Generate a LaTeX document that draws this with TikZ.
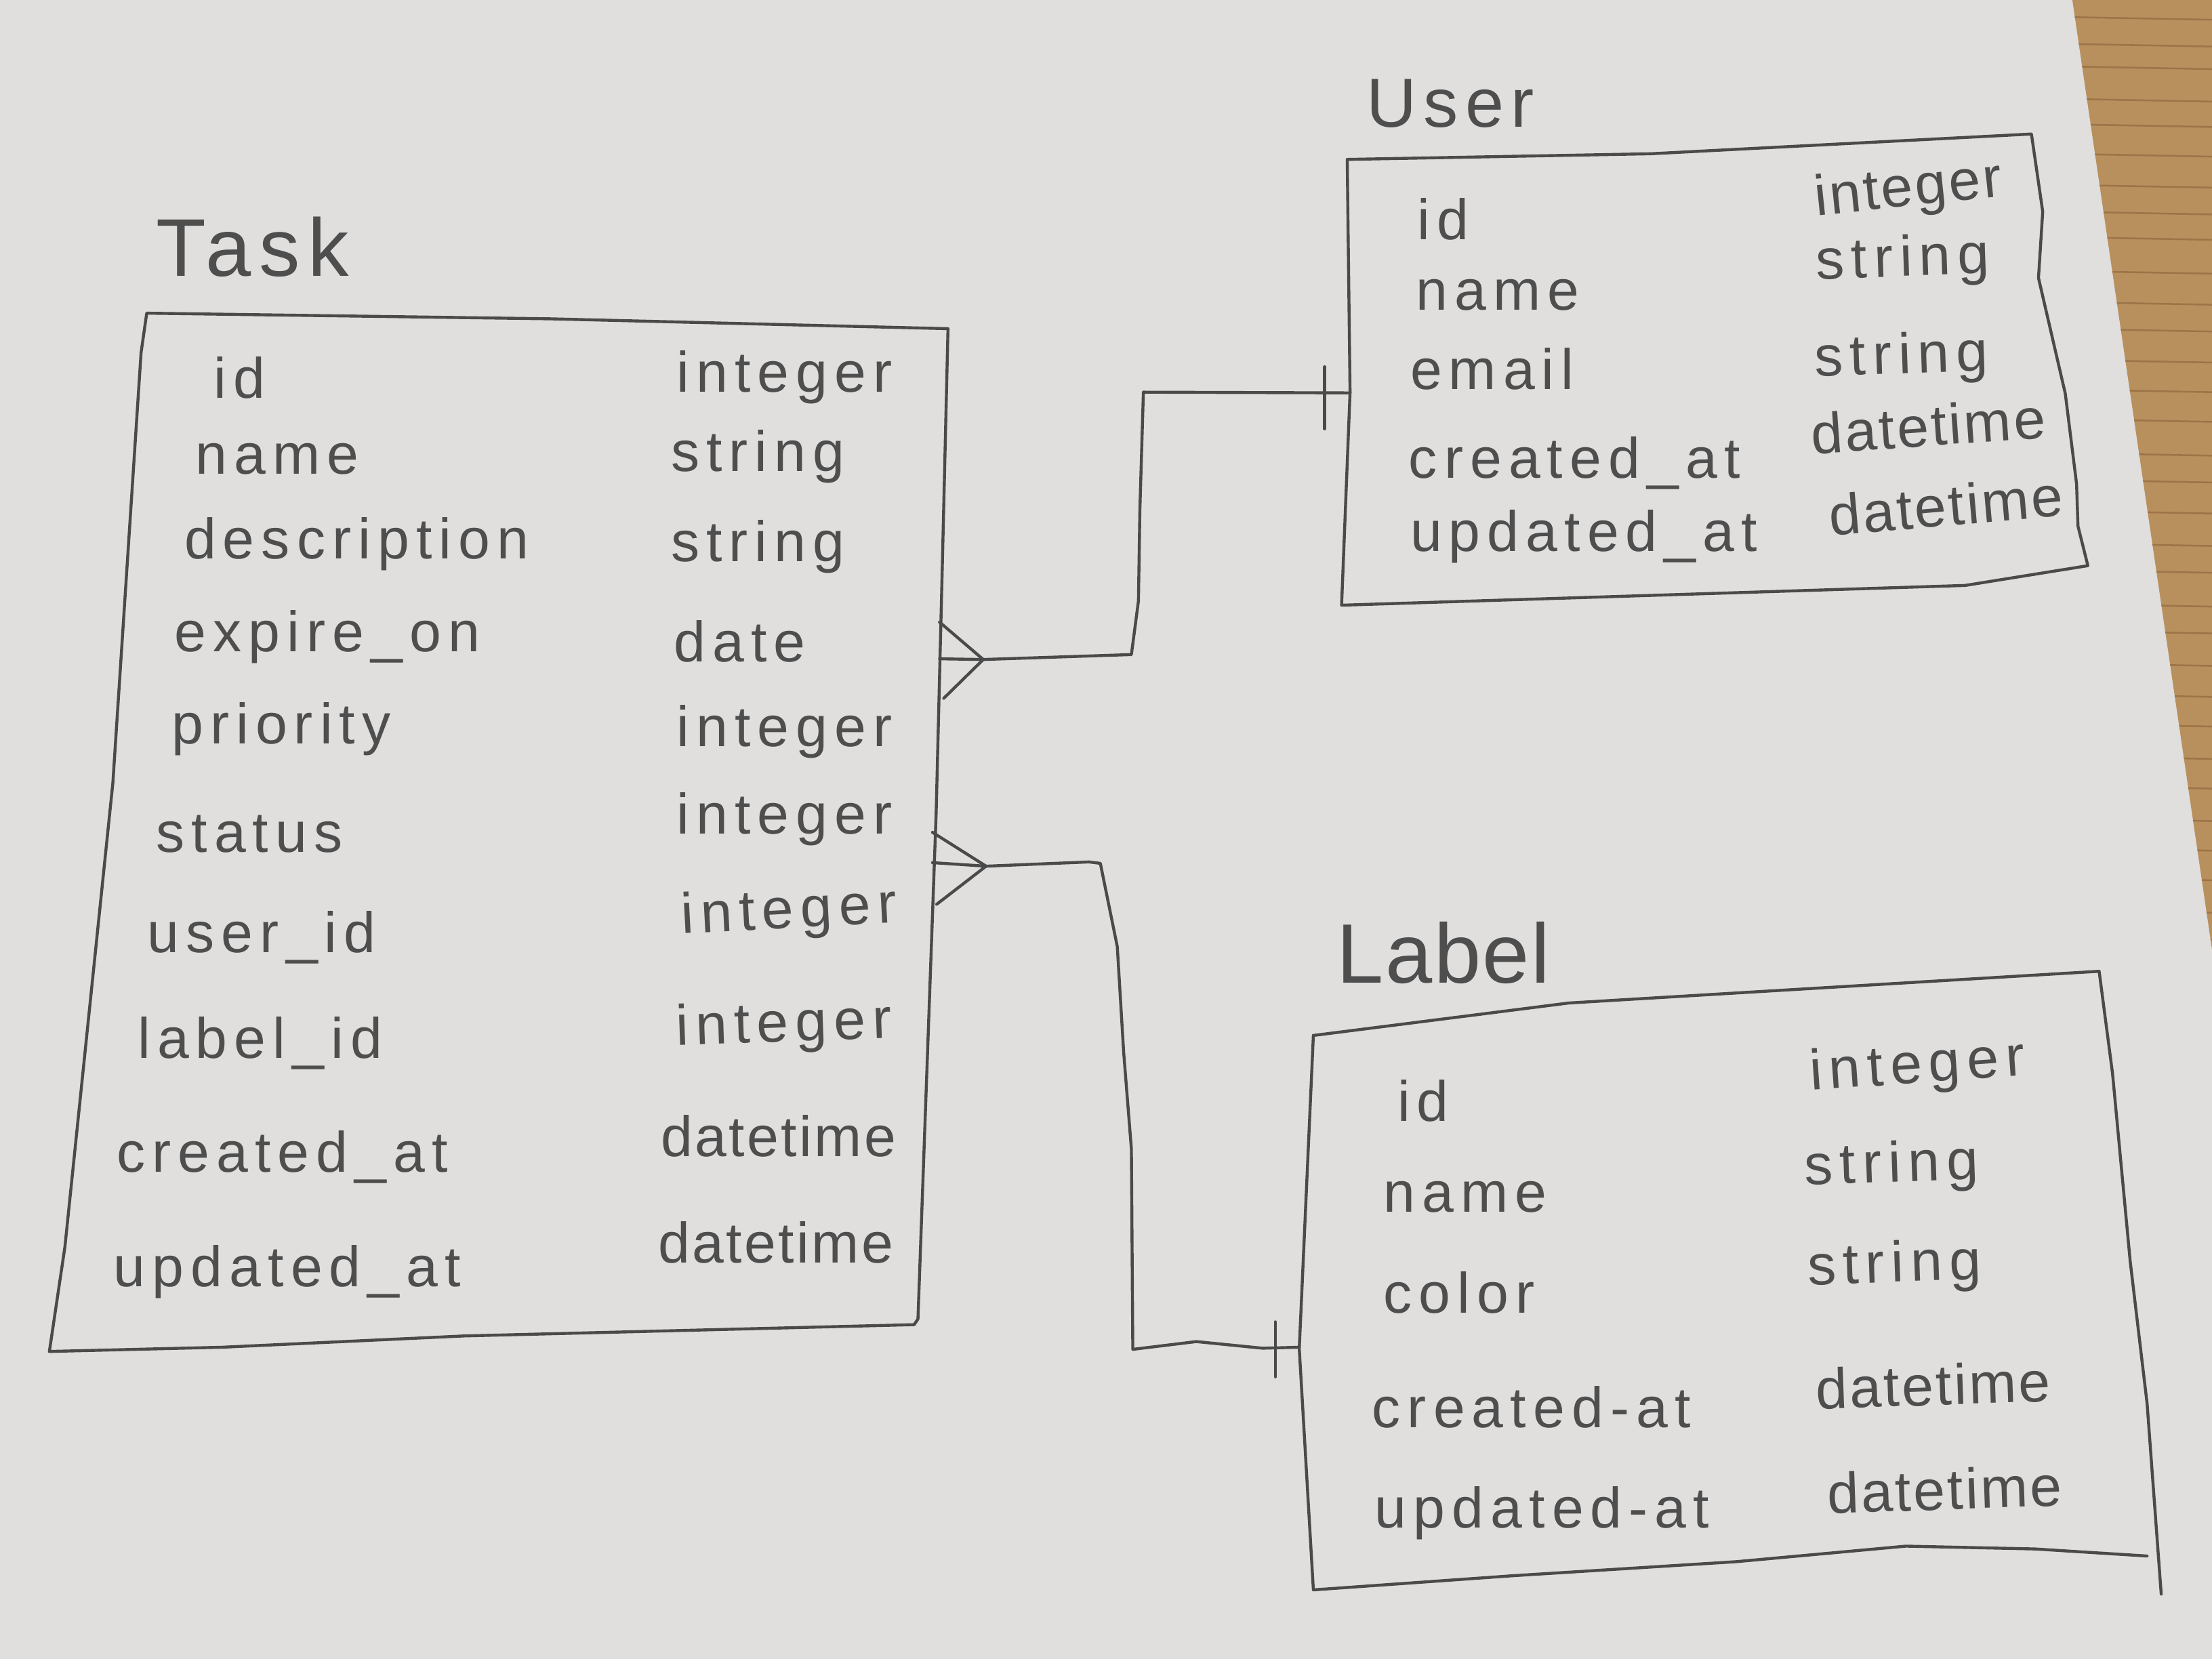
\documentclass[tikz,border=0pt]{standalone}
\usepackage{fontspec}
\newfontfamily\handfont{Liberation Sans}[LetterSpace=12]
\newfontfamily\narrowfont{Liberation Sans}[LetterSpace=4]
\newfontfamily\titlefont{Liberation Sans}[LetterSpace=10]
\newfontfamily\labelfont{Liberation Sans}[LetterSpace=2]
\definecolor{paper}{HTML}{E0DFDE}
\definecolor{desk}{HTML}{B8905E}
\definecolor{grain}{HTML}{9C7447}
\definecolor{pencil}{HTML}{4A4A4A}
\definecolor{pentext}{HTML}{4E4E4E}
\begin{document}
\begin{tikzpicture}[x=0.01cm,y=-0.01cm,
  pline/.style={draw=pencil,line width=0.6pt,line join=round,line cap=round},
  row/.style={anchor=base west,inner sep=0pt,text=pentext,font=\handfont\fontsize{11.5}{13}\selectfont},
  rown/.style={row,font=\narrowfont\fontsize{11.5}{13}\selectfont},
  ttl/.style={anchor=base west,inner sep=0pt,text=pentext}]
% background
\useasboundingbox (0,0) rectangle (1568,1176);
\fill[paper] (0,0) rectangle (1568,1176);
\fill[desk] (1469,0) -- (1568,0) -- (1568,673) -- cycle;
\begin{scope}
\clip (1469,0) -- (1568,0) -- (1568,673) -- cycle;
\foreach \yy in {12,31,47,70,88,109,131,150,168,192,214,233,255,276,297,321,340,362,385,404,428,447,470,492,513,536,557,580,601,622,645,664}
  \draw[grain,line width=0.35pt] (1460,\yy) -- (1568,\yy+2);
\end{scope}

% ---------- Task ----------
\node[ttl,font=\titlefont\fontsize{16.5}{18}\selectfont] (tTask) at (110,196) {Task};
\draw[pline] (104,222) -- (390,226) -- (672,233) -- (668,400) -- (663.6,576.5) -- (650.7,935) -- (648,939)
  -- (329,947) -- (157.5,955) -- (35,958) -- (46,884) -- (80,555) -- (100,250) -- cycle;
\node[row] (t1a) at (151,282) {id};
\node[row] (t1b) at (479,278) {integer};
\node[row] (t2a) at (138,336) {name};
\node[row] (t2b) at (475,334) {string};
\node[row] (t3a) at (130,396) {description};
\node[row] (t3b) at (475,398) {string};
\node[row] (t4a) at (123,462) {expire\_on};
\node[row] (t4b) at (477,469) {date};
\node[row] (t5a) at (121,527) {priority};
\node[row] (t5b) at (479,529) {integer};
\node[row] (t6a) at (110,604) {status};
\node[row] (t6b) at (479,591) {integer};
\node[row] (t7a) at (104,675) {user\_id};
\node[row,rotate=3] (t7b) at (483,662) {integer};
\node[row] (t8a) at (97,750) {label\_id};
\node[row,rotate=2] (t8b) at (479,741) {integer};
\node[row] (t9a) at (82,831) {created\_at};
\node[rown] (t9b) at (468,820) {datetime};
\node[row] (t10a) at (80,912) {updated\_at};
\node[rown] (t10b) at (466,895) {datetime};

% ---------- User ----------
\node[ttl,font=\titlefont\fontsize{14}{16}\selectfont] (tUser) at (968,90) {User};
\draw[pline] (955,113) -- (1170,109) -- (1440,95) -- (1448,150) -- (1445,197) -- (1464,279) -- (1472,343)
  -- (1473,373) -- (1480,401) -- (1393,415) -- (951,429) -- (957,278) -- cycle;
\node[row] (u1a) at (1004,170) {id};
\node[rown,rotate=6] (u1b) at (1287,153) {integer};
\node[row] (u2a) at (1003,220) {name};
\node[row,rotate=2] (u2b) at (1287,198) {string};
\node[row] (u3a) at (999,276) {email};
\node[row,rotate=2] (u3b) at (1286,267) {string};
\node[row] (u4a) at (998,339) {created\_at};
\node[rown,rotate=4] (u4b) at (1284,322) {datetime};
\node[row] (u5a) at (999,391) {updated\_at};
\node[rown,rotate=5] (u5b) at (1297,380) {datetime};

% ---------- Label ----------
\node[ttl,font=\labelfont\fontsize{17}{19}\selectfont] (tLabel) at (947,697) {Label};
\draw[pline] (931,734) -- (1112,711) -- (1488,688.5) -- (1497.5,761) -- (1510,894) -- (1522,995) -- (1532,1130);
\draw[pline] (1522,1103) -- (1442.5,1098) -- (1351,1096) -- (1231,1107) -- (1072,1117) -- (931,1127)
  -- (921,956) -- (931,734);
\node[row] (l1a) at (990,795) {id};
\node[row,rotate=4] (l1b) at (1283,773) {integer};
\node[row] (l2a) at (980,859) {name};
\node[row,rotate=2] (l2b) at (1279,840) {string};
\node[row] (l3a) at (980,931) {color};
\node[row,rotate=2] (l3b) at (1281,911) {string};
\node[row] (l4a) at (972,1012) {created-at};
\node[rown,rotate=2] (l4b) at (1287,999) {datetime};
\node[row] (l5a) at (974,1083) {updated-at};
\node[rown,rotate=2] (l5b) at (1295,1073) {datetime};

% ---------- connector Task -- User ----------
\coordinate (taskU) at (666,467);
\coordinate (tipU) at (697,467.5);
\coordinate (userL) at (957,278.5);
\draw[pline] (666,441) -- (tipU) -- (669,495);
\draw[pline] (taskU) -- (tipU) -- (802,464) -- (807,426) -- (808,362) -- (810.5,278) -- (userL);
\draw[pline] (939,260) -- (939,304);

% ---------- connector Task -- Label ----------
\coordinate (taskL) at (661,611.5);
\coordinate (tipL) at (699,614);
\coordinate (labelL) at (921,955);
\draw[pline] (661,590) -- (tipL) -- (664,641);
\draw[pline] (taskL) -- (tipL) -- (772,611) -- (780,612) -- (792,671) -- (796.5,745.6) -- (802,814.5)
  -- (803,956.5) -- (848,951) -- (895,955.7) -- (labelL);
\draw[pline] (904,937) -- (904,976);
\end{tikzpicture}
\end{document}
